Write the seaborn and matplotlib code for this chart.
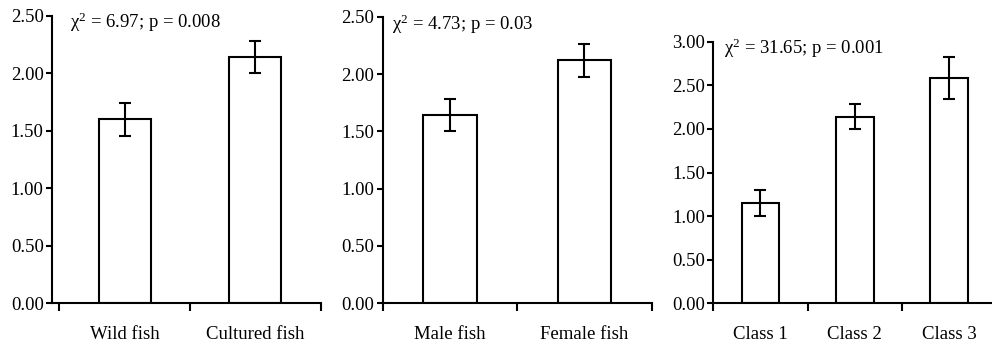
import matplotlib
matplotlib.use("Agg")
import matplotlib.pyplot as plt
import seaborn as sns
import numpy as np
import pandas as pd
from matplotlib.ticker import FormatStrFormatter, FixedLocator

sns.set_theme(style="white")
plt.rcParams['font.family'] = ['Liberation Serif', 'DejaVu Serif']
plt.rcParams['mathtext.fontset'] = 'custom'
plt.rcParams['mathtext.rm'] = 'Liberation Serif'
plt.rcParams['mathtext.it'] = 'Liberation Serif:italic'

# ---- data ----
origin_cats = ['Wild fish', 'Cultured fish']
origin_means = [1.60, 2.14]
origin_err = [0.145, 0.14]

sex_cats = ['Male fish', 'Female fish']
sex_means = [1.64, 2.12]
sex_err = [0.14, 0.145]

class_cats = ['Class 1', 'Class 2', 'Class 3']
class_means = [1.15, 2.14, 2.58]
class_err = [0.15, 0.14, 0.24]

annotations = ["χ$^{2}$ = 6.97; p = 0.008",
               "χ$^{2}$ = 4.73; p = 0.03",
               "χ$^{2}$ = 31.65; p = 0.001"]
ymaxes = [2.5, 2.5, 3.0]

W, H = 992, 343
fig = plt.figure(figsize=(W / 100, H / 100), dpi=100)

# axes rectangles in pixels: left, right, top(px of ymax), bottom(px of 0)
rects = [(52, 320.7, 15.7, 303.3),
         (382.7, 651.7, 16.7, 303.3),
         (713.3, 996.3, 41.7, 303.3)]
xlims = [(-0.556, 1.5), (-0.5, 1.5), (-0.5, 2.5)]
text_pos = [(0.067, 0.956), (0.033, 0.954), (0.039, 0.952)]

groups = [(origin_cats, origin_means, origin_err),
          (sex_cats, sex_means, sex_err),
          (class_cats, class_means, class_err)]

FS = 13.5
LW = 1.5
for i, (cats, means, errs) in enumerate(groups):
    l, r, t, b = rects[i]
    ax = fig.add_axes([l / W, (H - b) / H, (r - l) / W, (b - t) / H])
    df = pd.DataFrame({'cat': cats, 'val': means})
    sns.barplot(data=df, x='cat', y='val', ax=ax, color='white',
                edgecolor='black', linewidth=LW, width=0.4, errorbar=None,
                saturation=1)
    for p in ax.patches:
        p.set_facecolor('white')
        p.set_edgecolor('black')
    ax.errorbar(np.arange(len(cats)), means, yerr=errs, fmt='none',
                ecolor='black', elinewidth=LW, capsize=4.5, capthick=LW,
                zorder=5)
    ax.set_xlim(*xlims[i])
    ax.set_ylim(0, ymaxes[i])
    ax.set_yticks(np.arange(0, ymaxes[i] + 0.001, 0.5))
    ax.yaxis.set_major_formatter(FormatStrFormatter('%.2f'))
    ax.xaxis.set_minor_locator(FixedLocator(np.arange(-0.5, len(cats), 1.0)))
    ax.tick_params(axis='x', which='major', length=0, pad=16, labelsize=FS)
    ax.tick_params(axis='x', which='minor', length=6, width=LW,
                   direction='out', bottom=True, color='black')
    ax.tick_params(axis='y', which='major', length=4.5, width=LW,
                   direction='out', left=True, pad=1.5, labelsize=FS,
                   color='black')
    ax.set_xlabel('')
    ax.set_ylabel('')
    for s in ['top', 'right']:
        ax.spines[s].set_visible(False)
    for s in ['left', 'bottom']:
        ax.spines[s].set_color('black')
        ax.spines[s].set_linewidth(LW)
    ax.set_facecolor('white')
    tx, ty = text_pos[i]
    ax.text(tx, ty, annotations[i], transform=ax.transAxes, fontsize=FS,
            ha='left', va='baseline', color='black')
    for lab in ax.get_xticklabels() + ax.get_yticklabels():
        lab.set_color('black')

fig.savefig('out.png', dpi=100, facecolor='white')
